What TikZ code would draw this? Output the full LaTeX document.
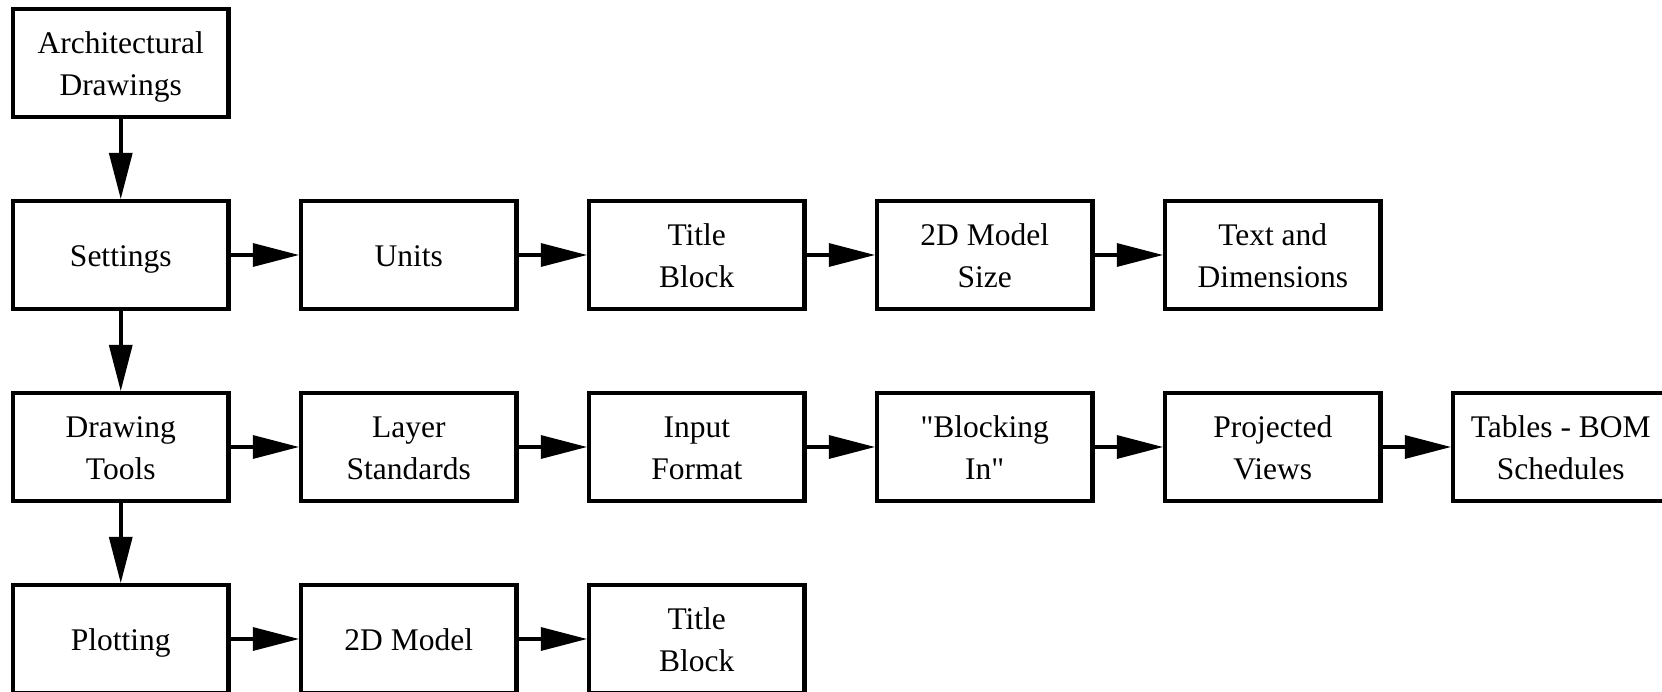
\documentclass[tikz,border=0pt]{standalone}
\usepackage{fontspec}
\setmainfont{Liberation Serif}[Ligatures=TeXOff]
\usetikzlibrary{positioning, arrows.meta}

% centred block of lines, set a little lower in its box
\newcommand{\boxtext}[1]{\raisebox{-3pt}[\height][\depth]{\begin{tabular}{@{}c@{}}#1\end{tabular}}}

\begin{document}
\begin{tikzpicture}[
    node distance=79.5pt and 68pt,
    box/.style={draw, line width=4.5pt, minimum width=215.5pt, minimum height=108pt, inner sep=0pt, font=\fontsize{31.5}{42.3}\selectfont},
    arr/.style={-{Triangle[length=46pt, width=24pt, line width=0pt]}, line width=4.5pt}
  ]
  \useasboundingbox (0,0) rectangle (1662pt,-691pt);
  % main column
  \node[box] (arch) at (120.75pt,-63pt) {\boxtext{Architectural\\Drawings}};
  \node[box, below=of arch] (settings) {\boxtext{Settings}};
  \node[box, below=of settings] (tools) {\boxtext{Drawing\\Tools}};
  \node[box, below=of tools] (plot) {\boxtext{Plotting}};
  \draw[arr] (arch) -- (settings);
  \draw[arr] (settings) -- (tools);
  \draw[arr] (tools) -- (plot);

  % settings row
  \node[box, right=of settings] (units) {\boxtext{Units}};
  \node[box, right=of units] (title) {\boxtext{Title\\Block}};
  \node[box, right=of title] (size) {\boxtext{2D Model\\Size}};
  \node[box, right=of size] (text) {\boxtext{Text and\\Dimensions}};
  \draw[arr] (settings) -- (units);
  \draw[arr] (units) -- (title);
  \draw[arr] (title) -- (size);
  \draw[arr] (size) -- (text);

  % drawing tools row
  \node[box, right=of tools] (layer) {\boxtext{Layer\\Standards}};
  \node[box, right=of layer] (input) {\boxtext{Input\\Format}};
  \node[box, right=of input] (block) {\boxtext{"Blocking\\In"}};
  \node[box, right=of block] (views) {\boxtext{Projected\\Views}};
  \node[box, right=of views] (bom) {\boxtext{Tables - BOM\\Schedules}};
  \draw[arr] (tools) -- (layer);
  \draw[arr] (layer) -- (input);
  \draw[arr] (input) -- (block);
  \draw[arr] (block) -- (views);
  \draw[arr] (views) -- (bom);

  % plotting row
  \node[box, right=of plot] (model) {\boxtext{2D Model}};
  \node[box, right=of model] (ptitle) {\boxtext{Title\\Block}};
  \draw[arr] (plot) -- (model);
  \draw[arr] (model) -- (ptitle);
\end{tikzpicture}
\end{document}
